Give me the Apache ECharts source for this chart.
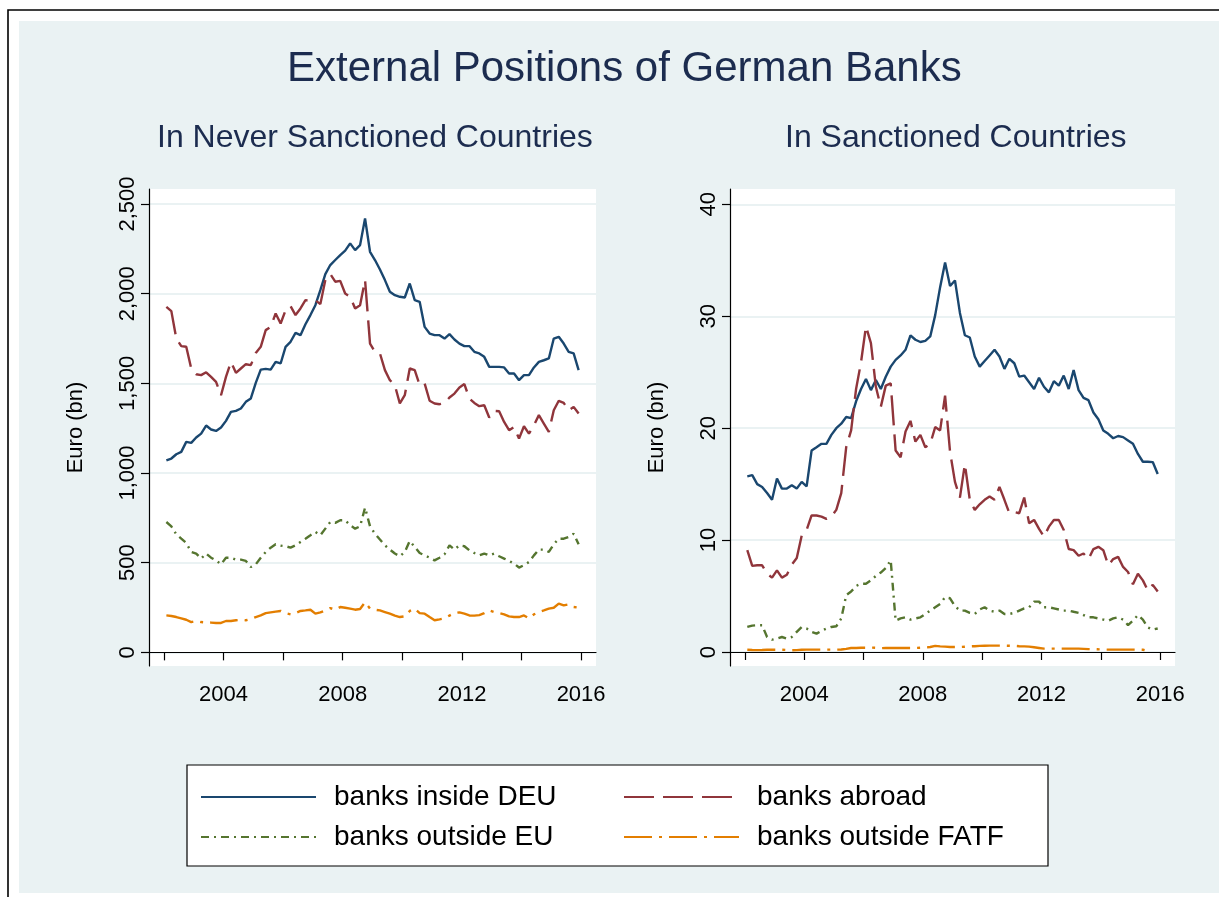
<!DOCTYPE html>
<html>
<head>
<meta charset="utf-8">
<script src="https://cdn.jsdelivr.net/npm/echarts@6/dist/echarts.min.js"></script>
<style>html,body{margin:0;padding:0;background:#fff;}#c{width:1219px;height:897px;}</style>
</head>
<body>
<div id="c"></div>
<script>
// Time points (year fractions, every two months)
const timePoints = [
 2002.083,2002.25,2002.417,2002.583,2002.75,2002.917,
 2003.083,2003.25,2003.417,2003.583,2003.75,2003.917,
 2004.083,2004.25,2004.417,2004.583,2004.75,2004.917,
 2005.083,2005.25,2005.417,2005.583,2005.75,2005.917,
 2006.083,2006.25,2006.417,2006.583,2006.75,2006.917,
 2007.083,2007.25,2007.417,2007.583,2007.75,2007.917,
 2008.083,2008.25,2008.417,2008.583,2008.75,2008.917,
 2009.083,2009.25,2009.417,2009.583,2009.75,2009.917,
 2010.083,2010.25,2010.417,2010.583,2010.75,2010.917,
 2011.083,2011.25,2011.417,2011.583,2011.75,2011.917,
 2012.083,2012.25,2012.417,2012.583,2012.75,2012.917,
 2013.083,2013.25,2013.417,2013.583,2013.75,2013.917,
 2014.083,2014.25,2014.417,2014.583,2014.75,2014.917,
 2015.083,2015.25,2015.417,2015.583,2015.75,2015.917
];

const seriesNames = ['banks inside DEU', 'banks abroad', 'banks outside EU', 'banks outside FATF'];

// Never sanctioned countries (Euro bn)
const neverInsideDEU = [
 1071,1081,1105,1118,1174,1168, 1198,1220,1265,1243,1235,1254,
 1291,1341,1347,1360,1397,1416, 1503,1577,1581,1577,1620,1611,
 1704,1732,1782,1769,1830,1881, 1936,2020,2109,2160,2188,2215,
 2240,2281,2243,2271,2420,2234, 2188,2135,2076,2011,1992,1983,
 1979,2057,1964,1955,1815,1778, 1769,1769,1750,1775,1745,1722,
 1708,1708,1676,1667,1648,1592, 1592,1592,1589,1555,1555,1518,
 1546,1546,1589,1620,1629,1639, 1750,1760,1722,1676,1667,1574
];
const neverAbroad = [
 1927,1903,1750,1708,1704,1583, 1551,1546,1562,1536,1508,1434,
 1536,1620,1559,1583,1607,1602, 1670,1704,1797,1815,1890,1834,
 1908,1931,1881,1918,1964,1960, 1964,1942,2076,2110,2067,2072,
 2001,1983,1918,1936,2076,1722, 1676,1667,1574,1518,1490,1388,
 1434,1583,1574,1490,1499,1403, 1388,1384,1391,1421,1443,1477,
 1496,1416,1391,1373,1378,1310, 1347,1345,1285,1239,1257,1192,
 1261,1220,1267,1323,1276,1229, 1350,1403,1391,1350,1369,1332
];
const neverOutsideEU = [
 727,703,658,634,610,560, 551,523,551,528,513,491,
 528,528,517,517,510,476, 491,528,560,584,603,595,
 592,584,597,616,634,653, 672,653,690,727,722,737,
 737,709,690,703,807,703, 662,629,597,573,551,536,
 560,621,588,554,541,528, 513,528,547,597,573,597,
 592,569,554,541,551,541, 551,536,523,510,495,473,
 486,504,541,573,573,560, 603,634,634,644,662,603
];
const neverOutsideFATF = [
 206,203,197,190,182,169, 175,169,167,166,164,164,
 175,175,179,182,179,186, 197,206,219,223,227,231,
 219,212,219,231,234,238, 216,223,234,247,238,253,
 249,244,238,242,279,244, 238,234,225,216,205,197,
 201,231,244,219,216,197, 179,184,190,205,219,223,
 216,206,205,208,219,234, 225,219,212,201,197,197,
 206,190,212,225,234,244, 249,272,262,268,253,249
];

// Sanctioned countries (Euro bn)
const sancInsideDEU = [
 15.7,15.8,15.0,14.75,14.2,13.6, 15.5,14.6,14.6,14.9,14.6,15.2,
 14.8,18.0,18.3,18.6,18.6,19.4, 20.0,20.4,21.0,20.9,22.4,23.5,
 24.4,23.4,24.3,23.5,24.6,25.5, 26.1,26.5,27.0,28.3,27.9,27.7,
 27.8,28.2,30.1,32.6,34.8,32.7, 33.2,30.3,28.3,28.1,26.4,25.5,
 26.0,26.5,27.0,26.4,25.3,26.2, 25.8,24.6,24.7,24.1,23.5,24.5,
 23.7,23.2,24.2,23.8,24.7,23.5, 25.2,23.4,22.7,22.5,21.4,20.8,
 19.8,19.5,19.1,19.3,19.2,18.9, 18.6,17.7,17.0,17.0,16.97,15.9
];
const sancAbroad = [
 9.1,7.7,7.75,7.75,7.0,6.65, 7.3,6.65,6.9,7.8,8.4,10.4,
 10.9,12.2,12.2,12.1,11.9,12.1, 12.7,14.2,18.3,19.8,23.5,25.9,
 29.1,27.6,23.7,21.9,23.8,24.0, 18.0,17.4,19.7,20.65,18.8,19.4,
 18.3,18.6,20.1,19.8,22.9,17.9, 15.2,13.8,16.8,13.6,12.7,13.2,
 13.6,13.9,13.6,14.75,13.6,12.4, 12.5,12.4,13.8,11.5,11.8,11.0,
 10.3,11.2,11.8,11.8,10.9,9.2, 9.1,8.6,8.8,8.3,9.2,9.4,
 9.1,7.75,8.3,8.5,7.6,7.15, 6.05,7.0,6.4,5.5,6.0,5.4
];
const sancOutsideEU = [
 2.24,2.36,2.39,2.39,1.34,1.1, 1.2,1.34,1.2,1.34,1.8,2.24,
 2.1,1.8,1.64,1.9,2.1,2.24, 2.3,3.0,5.07,5.4,5.9,6.1,
 6.1,6.4,6.8,7.1,7.5,8.2, 2.8,3.0,3.1,2.9,3.0,3.1,
 3.4,3.7,4.0,4.3,4.9,4.8, 4.1,3.7,3.7,3.5,3.4,3.8,
 4.0,3.7,3.6,3.7,3.4,3.4, 3.5,3.7,3.9,4.0,4.5,4.5,
 4.0,4.0,3.9,3.8,3.7,3.7, 3.6,3.5,3.3,3.1,3.1,3.0,
 2.9,2.8,3.0,3.1,2.9,2.4, 2.8,3.3,2.9,2.2,2.0,2.1
];
const sancOutsideFATF = [
 0.20,0.18,0.17,0.18,0.20,0.20, 0.20,0.20,0.18,0.16,0.17,0.20,
 0.21,0.21,0.21,0.21,0.21,0.21, 0.21,0.22,0.28,0.36,0.36,0.38,
 0.38,0.40,0.38,0.34,0.36,0.36, 0.36,0.36,0.36,0.36,0.36,0.38,
 0.40,0.45,0.55,0.50,0.48,0.45, 0.45,0.45,0.47,0.50,0.52,0.55,
 0.56,0.57,0.57,0.57,0.57,0.56, 0.55,0.52,0.50,0.48,0.42,0.36,
 0.30,0.30,0.30,0.30,0.30,0.30, 0.30,0.30,0.28,0.26,0.25,0.24,
 0.22,0.21,0.21,0.21,0.21,0.21, 0.21,0.21,0.20,0.10,null,null
];

const xTickValues = [2002, 2004, 2006, 2008, 2010, 2012, 2014, 2016];
const xLabelValues = [2004, 2008, 2012, 2016];
const yTicksLeft = [0, 500, 1000, 1500, 2000, 2500];
const yTicksRight = [0, 10, 20, 30, 40];

const FONT = 'Liberation Sans, Arial, Helvetica, sans-serif';
const NAVY = '#1a476f', MAROON = '#90353b', GREEN = '#55752f', ORANGE = '#e37e00';
const TITLE_COLOR = '#1c2c4f';

function pairs(vals) { return timePoints.map((t, i) => [t, vals[i]]); }

const styles = [
  { color: NAVY, type: 'solid' },
  { color: MAROON, type: [30, 9] },
  { color: GREEN, type: [8, 5, 2, 5] },
  { color: ORANGE, type: [28, 7, 3, 7] }
];

function makeSeries(gridIdx, valsList) {
  return valsList.map((vals, k) => ({
    type: 'line',
    name: seriesNames[k],
    xAxisIndex: gridIdx, yAxisIndex: gridIdx,
    data: pairs(vals),
    symbol: 'none', showSymbol: false,
    connectNulls: false,
    animation: false,
    color: styles[k].color,
    lineStyle: { color: styles[k].color, width: 2.4, type: styles[k].type }
  }));
}

function xAxis(gridIdx) {
  return {
    type: 'value', gridIndex: gridIdx, min: 2001.5, max: 2016.5,
    axisLine: { show: true, lineStyle: { color: '#000', width: 1.2 } },
    axisTick: { show: true, length: 8, lineStyle: { color: '#000', width: 1.2 }, customValues: xTickValues },
    axisLabel: { customValues: xLabelValues, fontSize: 22, color: '#000', fontFamily: FONT, margin: 18, formatter: v => String(v) },
    splitLine: { show: false }
  };
}
function yAxis(gridIdx, min, max, ticks, fmt) {
  return {
    type: 'value', gridIndex: gridIdx, min: min, max: max,
    name: 'Euro (bn)', nameLocation: 'middle', nameRotate: 90, nameGap: 62,
    nameTextStyle: { fontSize: 22, color: '#000', fontFamily: FONT },
    axisLine: { show: true, lineStyle: { color: '#000', width: 1.2 } },
    axisTick: { show: true, length: 8, lineStyle: { color: '#000', width: 1.2 }, customValues: ticks },
    axisLabel: { customValues: ticks, rotate: 90, fontSize: 22, color: '#000', fontFamily: FONT, margin: 10, formatter: fmt },
    splitLine: { show: true, lineStyle: { color: '#eaf2f3', width: 2 } }
  };
}

const chart = echarts.init(document.getElementById('c'), null, { renderer: 'canvas' });

function legendItem(name, left, top) {
  return {
    data: [name], left: left, top: top, padding: 0,
    itemWidth: 115, itemHeight: 20, selectedMode: false,
    itemStyle: { color: 'rgba(0,0,0,0)', borderColor: 'rgba(0,0,0,0)', borderWidth: 0, opacity: 0 },
    textStyle: { fontSize: 28, color: '#000', fontFamily: FONT, padding: [0, 0, 0, 13] }
  };
}

chart.setOption({
  backgroundColor: '#ffffff',
  animation: false,
  graphic: [
    { type: 'rect', z: -20, shape: { x: 8, y: 10, width: 1400, height: 1000 }, style: { fill: '#ffffff', stroke: '#000', lineWidth: 1.6 } },
    { type: 'rect', z: -19, shape: { x: 19, y: 21, width: 1300, height: 872 }, style: { fill: '#eaf2f3' } },
    { type: 'rect', z: -18, shape: { x: 187, y: 765, width: 861, height: 101 }, style: { fill: '#ffffff', stroke: '#000', lineWidth: 1.2 } }
  ],
  title: [
    { text: 'External Positions of German Banks', left: 282, top: 43,
      textStyle: { fontSize: 42, fontWeight: 'normal', color: TITLE_COLOR, fontFamily: FONT } },
    { text: 'In Never Sanctioned Countries', left: 152, top: 117,
      textStyle: { fontSize: 32, fontWeight: 'normal', color: TITLE_COLOR, fontFamily: FONT } },
    { text: 'In Sanctioned Countries', left: 780, top: 117,
      textStyle: { fontSize: 32, fontWeight: 'normal', color: TITLE_COLOR, fontFamily: FONT } }
  ],
  legend: [
    legendItem(seriesNames[0], 200, 783),
    legendItem(seriesNames[1], 623, 783),
    legendItem(seriesNames[2], 200, 823),
    legendItem(seriesNames[3], 623, 823)
  ],
  grid: [
    { left: 149, top: 189, width: 447, height: 477, show: true, backgroundColor: '#ffffff', borderWidth: 0, containLabel: false },
    { left: 730, top: 189, width: 445, height: 477, show: true, backgroundColor: '#ffffff', borderWidth: 0, containLabel: false }
  ],
  xAxis: [xAxis(0), xAxis(1)],
  yAxis: [
    yAxis(0, -76, 2584, yTicksLeft, v => v.toLocaleString('en-US')),
    yAxis(1, -1.25, 41.37, yTicksRight, v => String(v))
  ],
  series: [].concat(
    makeSeries(0, [neverInsideDEU, neverAbroad, neverOutsideEU, neverOutsideFATF]),
    makeSeries(1, [sancInsideDEU, sancAbroad, sancOutsideEU, sancOutsideFATF])
  )
});
</script>
</body>
</html>
